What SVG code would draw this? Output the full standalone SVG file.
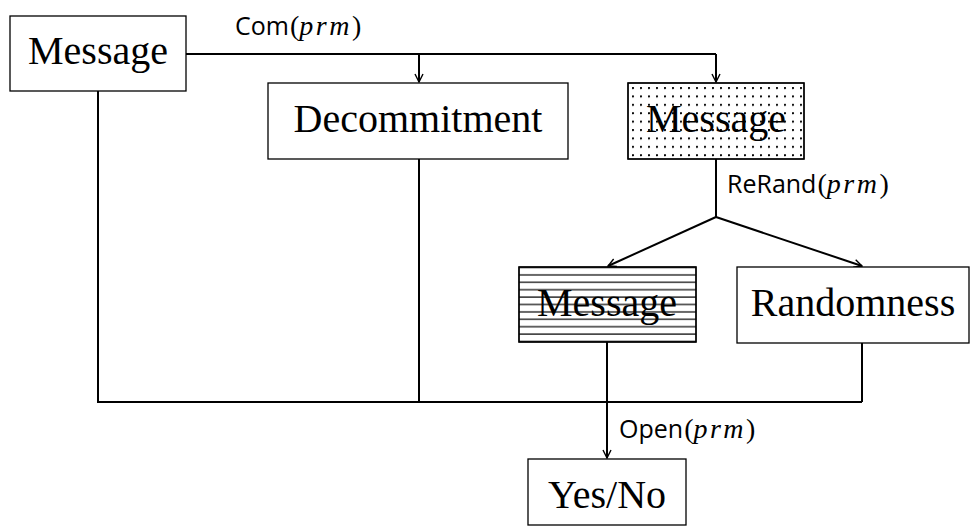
<svg xmlns="http://www.w3.org/2000/svg" width="975" height="528" viewBox="0 0 975 528">
  <style>
    .box { fill: #fff; stroke: #000; stroke-width: 1.3; }
    .lbl { font-family: "Liberation Serif", "DejaVu Serif", serif; font-size: 40px; text-anchor: middle; fill: #000; }
    .wire { fill: none; stroke: #000; stroke-width: 2; }
    .fn { font-family: "Open Sans", "Liberation Sans", sans-serif; font-size: 25px; fill: #000; }
    .arg { font-family: "Liberation Serif", serif; font-style: italic; font-size: 28px; letter-spacing: 2.5px; }
    .par { font-family: "Liberation Serif", serif; font-size: 28px; }
  </style>
  <defs>
    <marker id="arr" viewBox="0 0 10 10" refX="9" refY="5" markerWidth="10" markerHeight="10" markerUnits="userSpaceOnUse" orient="auto">
      <path d="M1,1 L9,5 L1,9" fill="none" stroke="#000" stroke-width="1.4"/>
    </marker>
    <pattern id="dots" width="8" height="8.4" patternUnits="userSpaceOnUse" x="632" y="87">
      <circle cx="1" cy="1" r="1.1" fill="#000"/>
    </pattern>
    <pattern id="hlines" width="10" height="7.4" patternUnits="userSpaceOnUse" x="0" y="266.5">
      <line x1="0" y1="1" x2="10" y2="1" stroke="#000" stroke-width="1.2"/>
    </pattern>
  </defs>

  <!-- connectors -->
  <g id="connectors">
    <path class="wire" d="M186,54 H716"/>
    <path class="wire" d="M419,54 V82" marker-end="url(#arr)"/>
    <path class="wire" d="M716,54 V82" marker-end="url(#arr)"/>
    <path class="wire" d="M98,91 V402 H862"/>
    <path class="wire" d="M419,159 V402"/>
    <path class="wire" d="M716,159 V217"/>
    <path class="wire" d="M716,217 L608,266" marker-end="url(#arr)"/>
    <path class="wire" d="M716,217 L862,266" marker-end="url(#arr)"/>
    <path class="wire" d="M862,343 V402"/>
    <path class="wire" d="M607,342 V458" marker-end="url(#arr)"/>
    <text class="fn" x="235" y="35">Com<tspan class="par" dx="1">(</tspan><tspan class="arg">prm</tspan><tspan class="par">)</tspan></text>
    <text class="fn" x="727" y="193">ReRand<tspan class="par" dx="1">(</tspan><tspan class="arg">prm</tspan><tspan class="par">)</tspan></text>
    <text class="fn" x="619" y="438">Open<tspan class="par" dx="1">(</tspan><tspan class="arg">prm</tspan><tspan class="par">)</tspan></text>
  </g>

  <g id="message">
    <rect class="box" x="10" y="16" width="176" height="75"/>
    <text class="lbl" x="98" y="64">Message</text>
  </g>

  <g id="decommitment">
    <rect class="box" x="268" y="83" width="300" height="76"/>
    <text class="lbl" x="418" y="132">Decommitment</text>
  </g>

  <g id="message-committed">
    <rect class="box" x="628" y="83" width="176" height="76"/>
    <rect x="628" y="83" width="176" height="76" fill="url(#dots)"/>
    <rect x="628" y="83" width="176" height="76" fill="none" stroke="#000" stroke-width="1.3"/>
    <text class="lbl" x="716" y="132">Message</text>
  </g>

  <g id="message-rerandomized">
    <rect class="box" x="519" y="267" width="177" height="75"/>
    <rect x="519" y="267" width="177" height="75" fill="url(#hlines)"/>
    <rect x="519" y="267" width="177" height="75" fill="none" stroke="#000" stroke-width="1.3"/>
    <text class="lbl" x="607" y="316">Message</text>
  </g>

  <g id="randomness">
    <rect class="box" x="737" y="267" width="232" height="76"/>
    <text class="lbl" x="853" y="316">Randomness</text>
  </g>

  <g id="yes-no">
    <rect class="box" x="528" y="459" width="158" height="66"/>
    <text class="lbl" x="607" y="508">Yes/No</text>
  </g>
</svg>
